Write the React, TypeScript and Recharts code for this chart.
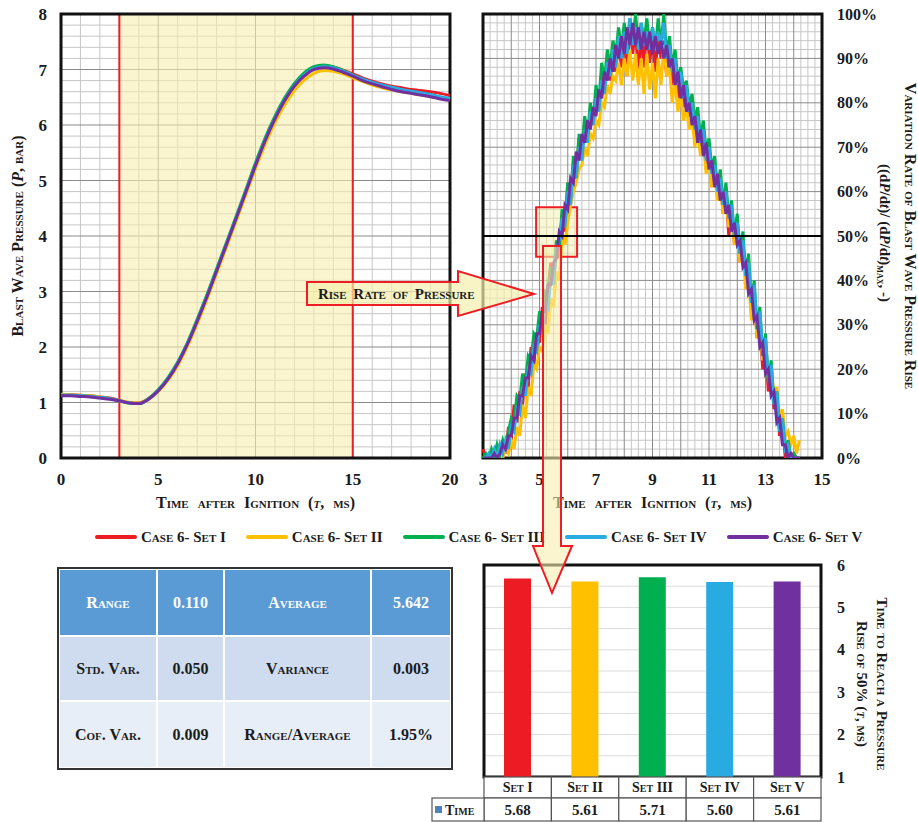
import React from "react";
import {
  LineChart, Line, XAxis, YAxis, CartesianGrid, ReferenceArea, ReferenceLine,
  BarChart, Bar, Cell, Label,
} from "recharts";

const FONT = "'Liberation Serif', 'Times New Roman', serif";
const INK = "#1b1b1b";
const RED_EDGE = "#ee1c25";
const PALE = "#f6efae";

const SET_NAMES = ["Case 6- Set I", "Case 6- Set II", "Case 6- Set III", "Case 6- Set IV", "Case 6- Set V"];
const SET_KEYS = ["s1", "s2", "s3", "s4", "s5"];
const SET_COLORS = ["#ed1c24", "#ffc000", "#00b050", "#29abe2", "#7030a0"];

// blast wave pressure (bar), sampled every 0.5 ms
const PRESSURE_TIME = [0, 0.5, 1, 1.5, 2, 2.5, 3, 3.5, 4, 4.5, 5, 5.5, 6, 6.5, 7, 7.5, 8, 8.5, 9, 9.5, 10,
  10.5, 11, 11.5, 12, 12.5, 13, 13.5, 14, 14.5, 15, 15.5, 16, 16.5, 17, 17.5, 18, 18.5, 19, 19.5, 20];
const P_SET1 = [1.14, 1.14, 1.13, 1.12, 1.10, 1.08, 1.04, 1.00, 0.99, 1.07, 1.22, 1.43, 1.70, 2.05, 2.46, 2.90, 3.37, 3.84, 4.31, 4.79, 5.27,
  5.71, 6.10, 6.43, 6.70, 6.90, 7.02, 7.06, 7.04, 6.99, 6.92, 6.85, 6.79, 6.74, 6.70, 6.67, 6.64, 6.62, 6.60, 6.57, 6.53];
const P_SET2 = [1.15, 1.14, 1.13, 1.12, 1.10, 1.07, 1.04, 1.00, 0.99, 1.06, 1.20, 1.40, 1.66, 2.01, 2.41, 2.85, 3.32, 3.79, 4.26, 4.74, 5.21,
  5.65, 6.04, 6.36, 6.62, 6.81, 6.93, 6.98, 6.97, 6.92, 6.85, 6.78, 6.72, 6.67, 6.63, 6.60, 6.57, 6.54, 6.51, 6.48, 6.45];
const P_SET3 = [1.13, 1.13, 1.12, 1.11, 1.09, 1.07, 1.03, 0.99, 0.98, 1.07, 1.23, 1.45, 1.73, 2.08, 2.50, 2.94, 3.41, 3.88, 4.35, 4.83, 5.32,
  5.77, 6.16, 6.49, 6.75, 6.94, 7.05, 7.08, 7.05, 6.98, 6.90, 6.82, 6.76, 6.71, 6.67, 6.63, 6.60, 6.57, 6.54, 6.50, 6.46];
const P_SET4 = [1.13, 1.13, 1.12, 1.11, 1.09, 1.07, 1.03, 0.99, 0.98, 1.06, 1.22, 1.43, 1.71, 2.06, 2.47, 2.91, 3.38, 3.85, 4.32, 4.80, 5.28,
  5.73, 6.12, 6.45, 6.71, 6.90, 7.02, 7.05, 7.03, 6.97, 6.90, 6.83, 6.77, 6.72, 6.68, 6.64, 6.61, 6.58, 6.55, 6.51, 6.48];
const P_SET5 = [1.12, 1.12, 1.11, 1.10, 1.08, 1.06, 1.03, 0.99, 0.98, 1.06, 1.21, 1.42, 1.70, 2.05, 2.46, 2.90, 3.37, 3.84, 4.31, 4.79, 5.27,
  5.72, 6.11, 6.44, 6.70, 6.88, 7.00, 7.03, 7.01, 6.95, 6.88, 6.80, 6.74, 6.69, 6.64, 6.60, 6.57, 6.54, 6.51, 6.47, 6.44];

// normalised rise rate (%), sampled every 0.1 ms starting at 3 ms
const RATE_START = 3;
const RATE_STEP = 0.1;
const R_SET1 = [2, 0, 0, 1, 0, 3, 0, 4, 1, 7, 4, 12, 8, 15, 12, 19, 16, 25, 21, 28,
  26, 34, 30, 38, 44, 40, 48, 45, 55, 51, 62, 58, 66, 63, 72, 68, 76, 71, 79, 75,
  82, 78, 86, 82, 89, 85, 90, 87, 94, 88, 96, 86, 98, 91, 97, 85, 96, 88, 97, 89,
  95, 87, 96, 90, 94, 86, 93, 84, 89, 81, 87, 79, 83, 77, 80, 72, 76, 69, 74, 65,
  70, 61, 66, 59, 63, 55, 60, 50, 56, 48, 53, 44, 49, 40, 42, 33, 37, 27, 31, 20,
  25, 15, 19, 11, 14, 5, 8, 0, 3, 0, 1, 0, 0];
const R_SET2 = [0, 0, 0, 0, 0, 0, 1, 0, 2, 1, 4, 2, 7, 5, 12, 9, 16, 14, 21, 20,
  25, 24, 30, 28, 36, 34, 42, 40, 50, 48, 53, 57, 60, 62, 65, 66, 70, 68, 73, 72,
  76, 75, 80, 79, 84, 82, 86, 85, 89, 84, 90, 86, 92, 85, 91, 84, 90, 82, 91, 83,
  89, 81, 90, 84, 93, 86, 88, 80, 85, 78, 82, 76, 79, 74, 77, 70, 74, 68, 71, 64,
  67, 61, 64, 58, 61, 55, 58, 52, 55, 48, 52, 44, 47, 38, 41, 31, 36, 27, 31, 22,
  26, 18, 21, 14, 16, 9, 11, 5, 6, 3, 5, 1, 4];
const R_SET3 = [0, 1, 0, 2, 0, 3, 1, 4, 2, 6, 9, 8, 14, 13, 19, 17, 23, 22, 28, 27,
  33, 31, 38, 35, 43, 41, 49, 47, 56, 53, 62, 59, 68, 64, 73, 69, 77, 73, 80, 76,
  84, 80, 89, 85, 92, 88, 94, 91, 97, 92, 98, 93, 99, 94, 100, 93, 98, 94, 99, 93,
  97, 92, 99, 93, 100, 91, 95, 88, 92, 85, 88, 83, 85, 79, 82, 76, 79, 72, 76, 69,
  72, 65, 68, 61, 65, 57, 62, 54, 58, 50, 55, 46, 51, 41, 46, 35, 40, 29, 34, 23,
  28, 17, 22, 12, 15, 6, 9, 2, 4, 0, 1, 0, 0];
const R_SET4 = [0, 0, 1, 0, 2, 0, 3, 1, 4, 2, 7, 6, 11, 10, 16, 14, 20, 19, 25, 24,
  30, 28, 35, 33, 41, 39, 47, 49, 54, 52, 60, 57, 66, 63, 70, 67, 74, 71, 78, 75,
  81, 78, 85, 82, 89, 86, 92, 88, 95, 90, 96, 91, 99, 93, 97, 92, 98, 93, 96, 92,
  97, 92, 96, 93, 98, 90, 93, 87, 90, 84, 87, 81, 84, 78, 80, 74, 77, 71, 74, 67,
  70, 64, 66, 60, 63, 57, 60, 54, 57, 50, 53, 46, 49, 41, 44, 35, 39, 30, 33, 24,
  27, 18, 21, 12, 15, 6, 9, 2, 3, 0, 0, 0, 0];
const R_SET5 = [0, 0, 0, 0, 1, 0, 1, 3, 2, 5, 5, 9, 9, 14, 14, 18, 18, 23, 22, 28,
  28, 33, 33, 39, 39, 44, 45, 51, 50, 57, 56, 63, 62, 69, 67, 73, 71, 76, 74, 79,
  77, 83, 81, 87, 85, 90, 87, 93, 90, 95, 91, 97, 93, 98, 93, 97, 92, 96, 92, 96,
  91, 95, 91, 94, 90, 93, 88, 90, 84, 87, 81, 84, 78, 80, 75, 77, 71, 74, 68, 71,
  65, 67, 61, 64, 58, 60, 55, 57, 51, 53, 48, 49, 43, 44, 37, 38, 31, 32, 25, 26,
  19, 20, 14, 15, 8, 9, 3, 3, 0, 1, 0, 0, 0];

// time to reach 50 % rise (ms)
const BAR_SETS = ["Set I", "Set II", "Set III", "Set IV", "Set V"];
const BAR_TIME = [5.68, 5.61, 5.71, 5.60, 5.61];

// statistics table
const STAT_NAME_A = ["Range", "Std. Var.", "Cof. Var."];
const STAT_VALUE_A = ["0.110", "0.050", "0.009"];
const STAT_NAME_B = ["Average", "Variance", "Range/Average"];
const STAT_VALUE_B = ["5.642", "0.003", "1.95%"];

const P_SERIES = [P_SET1, P_SET2, P_SET3, P_SET4, P_SET5];
const R_SERIES = [R_SET1, R_SET2, R_SET3, R_SET4, R_SET5];

const pressureData = PRESSURE_TIME.map((t, i) => {
  const row: any = { t };
  P_SERIES.forEach((s, k) => { row[SET_KEYS[k]] = s[i]; });
  return row;
});
const rateData = R_SET1.map((_, i) => {
  const row: any = { t: +(RATE_START + i * RATE_STEP).toFixed(2) };
  R_SERIES.forEach((s, k) => { row[SET_KEYS[k]] = s[i]; });
  return row;
});
const barData = BAR_SETS.map((name, i) => ({ name, time: BAR_TIME[i] }));

// grid helpers
const steps = (from: number, to: number, step: number) => {
  const out: number[] = [];
  for (let v = from; v <= to + 1e-9; v += step) out.push(+v.toFixed(3));
  return out;
};
const minorOf = (vals: number[], every: number) =>
  vals.filter((v) => Math.abs(v / every - Math.round(v / every)) > 1e-6);
const vGen = (vals: number[], d0: number, d1: number) => (p: any) => {
  const s = p.xAxis && p.xAxis.scale;
  if (typeof s === "function") return vals.map((v) => s(v));
  const o = p.offset;
  return vals.map((v) => o.left + ((v - d0) / (d1 - d0)) * o.width);
};
const hGen = (vals: number[], d0: number, d1: number) => (p: any) => {
  const s = p.yAxis && p.yAxis.scale;
  if (typeof s === "function") return vals.map((v) => s(v));
  const o = p.offset;
  return vals.map((v) => o.top + ((d1 - v) / (d1 - d0)) * o.height);
};

const P_VMAJOR = [5, 10, 15];
const P_VMINOR = minorOf(steps(1, 19, 1), 5);
const P_HMAJOR = steps(1, 7, 1);
const P_HMINOR = minorOf(steps(0.2, 7.8, 0.2), 1);
const R_VMAJOR = steps(4, 14, 1);
const R_VMINOR = minorOf(steps(3.25, 14.75, 0.25), 1);
const R_HMAJOR = steps(10, 90, 10);
const R_HMINOR = minorOf(steps(2, 98, 2), 10);
const B_H = steps(1.5, 5.5, 0.5);

const caps: any = { fontVariant: "small-caps", fontWeight: 700, fill: INK, fontFamily: FONT };
const tickStyle = { fill: INK, fontSize: 17, fontWeight: 700, fontFamily: FONT };

function TimeTitle(props: any) {
  const { x, y, width } = props.viewBox;
  return (
    <text x={x + width / 2} y={y + 50} textAnchor="middle" fontSize={16} style={{ ...caps, wordSpacing: 5 }}>
      Time after Ignition (<tspan fontStyle="italic">t</tspan>, ms)
    </text>
  );
}

function PressureTitle(props: any) {
  const { x, y, height } = props.viewBox;
  const cx = x + 17;
  const cy = y + height / 2;
  return (
    <text x={cx} y={cy} transform={`rotate(-90 ${cx} ${cy})`} textAnchor="middle" dominantBaseline="central" fontSize={16} style={caps}>
      Blast Wave Pressure (<tspan fontStyle="italic">P</tspan>, bar)
    </text>
  );
}

function RateTitle(props: any) {
  const { x, y, height } = props.viewBox;
  const cy = y + height / 2;
  const x1 = x + 88;
  const x2 = x + 63;
  return (
    <g>
      <text x={x1} y={cy} transform={`rotate(90 ${x1} ${cy})`} textAnchor="middle" dominantBaseline="central" fontSize={16} style={caps}>
        Variation Rate of Blast Wave Pressure Rise
      </text>
      <text x={x2} y={cy - 3} transform={`rotate(90 ${x2} ${cy - 3})`} textAnchor="middle" dominantBaseline="central" fontSize={15} style={{ ...caps, fontVariant: "normal" }}>
        ((d<tspan fontStyle="italic">P</tspan>/d<tspan fontStyle="italic">t</tspan>)/ (d<tspan fontStyle="italic">P</tspan>/d<tspan fontStyle="italic">t</tspan>)<tspan fontSize={11} dy={4} style={{ fontVariant: "small-caps" }}>max</tspan><tspan dy={-4}>, -)</tspan>
      </text>
    </g>
  );
}

function BarTitle(props: any) {
  const { x, y, height } = props.viewBox;
  const cy = y + height / 2 + 13;
  const x1 = x + 61;
  const x2 = x + 41;
  return (
    <g>
      <text x={x1} y={cy} transform={`rotate(90 ${x1} ${cy})`} textAnchor="middle" dominantBaseline="central" fontSize={15} style={caps}>
        Time to Reach a Pressure
      </text>
      <text x={x2} y={cy} transform={`rotate(90 ${x2} ${cy})`} textAnchor="middle" dominantBaseline="central" fontSize={15} style={caps}>
        Rise of 50% (<tspan fontStyle="italic">t</tspan>, ms)
      </text>
    </g>
  );
}

function SetTick(props: any) {
  const { x, y, index, payload } = props;
  const h = payload && payload.offset ? payload.offset : 33.7;
  const top = y;
  return (
    <g>
      <rect x={x - h} y={top} width={2 * h} height={21} fill="#fff" stroke="#555" strokeWidth={1.2} />
      <rect x={x - h} y={top + 21} width={2 * h} height={23} fill="#fff" stroke="#555" strokeWidth={1.2} />
      <text x={x} y={top + 15} textAnchor="middle" fontSize={14} style={caps}>{payload.value}</text>
      <text x={x} y={top + 38} textAnchor="middle" fontSize={15} style={caps}>{BAR_TIME[index].toFixed(2)}</text>
      {index === 0 && (
        <g>
          <rect x={x - h - 52} y={top + 21} width={52} height={23} fill="#fff" stroke="#555" strokeWidth={1.2} />
          <rect x={x - h - 49} y={top + 29} width={7} height={7} fill="#4f81bd" />
          <text x={x - h - 39} y={top + 38} fontSize={14} style={caps}>Time</text>
        </g>
      )}
    </g>
  );
}

function PressureChart() {
  return (
    <LineChart width={470} height={520} data={pressureData} margin={{ top: 14, right: 20, bottom: 0, left: 0 }}>
      <CartesianGrid stroke="#c6c6c6" verticalCoordinatesGenerator={vGen(P_VMINOR, 0, 20)} horizontalCoordinatesGenerator={hGen(P_HMINOR, 0, 8)} />
      <CartesianGrid stroke="#8a8a8a" verticalCoordinatesGenerator={vGen(P_VMAJOR, 0, 20)} horizontalCoordinatesGenerator={hGen(P_HMAJOR, 0, 8)} />
      <XAxis dataKey="t" type="number" domain={[0, 20]} ticks={[0, 5, 10, 15, 20]} tickLine={false} axisLine={false}
        tick={tickStyle} tickMargin={9} height={62}>
        <Label content={TimeTitle} />
      </XAxis>
      <YAxis type="number" domain={[0, 8]} ticks={[0, 1, 2, 3, 4, 5, 6, 7, 8]} tickLine={false} axisLine={false}
        tick={tickStyle} tickMargin={8} width={61}>
        <Label content={PressureTitle} />
      </YAxis>
      <ReferenceArea x1={3} x2={15} y1={0} y2={8} fill={PALE} fillOpacity={0.6} stroke={RED_EDGE} strokeWidth={2} />
      {SET_KEYS.map((k, i) => (
        <Line key={k} type="monotone" dataKey={k} stroke={SET_COLORS[i]} strokeWidth={3} dot={false} isAnimationActive={false} />
      ))}
      <ReferenceArea x1={0} x2={20} y1={0} y2={8} fill="none" stroke="#111" strokeWidth={3} />
    </LineChart>
  );
}

function RateChart() {
  return (
    <LineChart width={458} height={520} data={rateData} margin={{ top: 14, right: 0, bottom: 0, left: 23 }}>
      <CartesianGrid stroke="#c6c6c6" verticalCoordinatesGenerator={vGen(R_VMINOR, 3, 15)} horizontalCoordinatesGenerator={hGen(R_HMINOR, 0, 100)} />
      <CartesianGrid stroke="#8a8a8a" verticalCoordinatesGenerator={vGen(R_VMAJOR, 3, 15)} horizontalCoordinatesGenerator={hGen(R_HMAJOR, 0, 100)} />
      <XAxis dataKey="t" type="number" domain={[3, 15]} ticks={[3, 5, 7, 9, 11, 13, 15]} tickLine={false} axisLine={false}
        tick={tickStyle} tickMargin={9} height={62}>
        <Label content={TimeTitle} />
      </XAxis>
      <YAxis orientation="right" type="number" domain={[0, 100]} ticks={[0, 10, 20, 30, 40, 50, 60, 70, 80, 90, 100]}
        allowDataOverflow tickLine={false} axisLine={false} tick={{ ...tickStyle, fontSize: 16 }} tickMargin={9} width={96}
        tickFormatter={(v: number) => `${v}%`}>
        <Label content={RateTitle} />
      </YAxis>
      {SET_KEYS.map((k, i) => (
        <Line key={k} type="linear" dataKey={k} stroke={SET_COLORS[i]} strokeWidth={3} dot={false} isAnimationActive={false} />
      ))}
      <ReferenceLine y={50} stroke="#000" strokeWidth={2} />
      <ReferenceArea x1={4.88} x2={6.33} y1={45.3} y2={56.5} fill={PALE} fillOpacity={0.5} stroke={RED_EDGE} strokeWidth={2} />
      <ReferenceArea x1={3} x2={15} y1={0} y2={100} fill="none" stroke="#111" strokeWidth={3} />
    </LineChart>
  );
}

function TimeBarChart() {
  return (
    <BarChart width={518} height={272} data={barData} margin={{ top: 15, right: 0, bottom: 0, left: 84 }}>
      <CartesianGrid stroke="#dcdcdc" vertical={false} horizontalCoordinatesGenerator={hGen(B_H, 1, 6)} />
      <XAxis dataKey="name" tickLine={false} axisLine={false} tickSize={0} tickMargin={0} interval={0} height={45} tick={<SetTick />} />
      <YAxis orientation="right" type="number" domain={[1, 6]} ticks={[1, 2, 3, 4, 5, 6]} allowDataOverflow
        tickLine={false} axisLine={false} tick={{ ...tickStyle, fontSize: 16 }} tickMargin={10} width={97}>
        <Label content={BarTitle} />
      </YAxis>
      <Bar dataKey="time" barSize={27} isAnimationActive={false}>
        {barData.map((d, i) => <Cell key={d.name} fill={SET_COLORS[i]} />)}
      </Bar>
      <ReferenceArea y1={1} y2={6} fill="none" stroke="#111" strokeWidth={3} />
    </BarChart>
  );
}

function StatsTable() {
  const rowBg = ["#5b9bd5", "#cfdbee", "#e8eef7"];
  const cells: any[] = [];
  STAT_NAME_A.forEach((name, r) => {
    const color = r === 0 ? "#fff" : INK;
    [name, STAT_VALUE_A[r], STAT_NAME_B[r], STAT_VALUE_B[r]].forEach((txt, c) => {
      cells.push(
        <div key={`${r}-${c}`} style={{ background: rowBg[r], color, display: "flex", alignItems: "center", justifyContent: "center",
          fontVariant: c % 2 === 0 ? "small-caps" : "normal", fontWeight: 700, fontSize: 16 }}>
          {txt}
        </div>
      );
    });
  });
  return (
    <div style={{ position: "absolute", left: 57, top: 567, width: 396, height: 203, boxSizing: "border-box", border: "2.5px solid #333",
      background: "#fff", display: "grid", gridTemplateColumns: "96px 65px 145px 1fr", gridTemplateRows: "65px 63px 1fr", gap: 2, padding: 1 }}>
      {cells}
    </div>
  );
}

function LegendRow() {
  return (
    <div style={{ position: "absolute", left: 95, top: 528, height: 18, display: "flex", alignItems: "center", gap: 20 }}>
      {SET_NAMES.map((n, i) => (
        <div key={n} style={{ display: "flex", alignItems: "center" }}>
          <span style={{ display: "inline-block", width: 42, height: 4, borderRadius: 2, background: SET_COLORS[i], marginRight: 4 }} />
          <span style={{ fontVariant: "small-caps", fontWeight: 700, fontSize: 15, color: INK, whiteSpace: "nowrap" }}>{n}</span>
        </div>
      ))}
    </div>
  );
}

function Annotations() {
  return (
    <svg width={918} height={822} style={{ position: "absolute", left: 0, top: 0, pointerEvents: "none" }}>
      <polygon points="307,282 458,282 458,271 534,294 458,316 458,305 307,305" fill={PALE} fillOpacity={0.7} stroke={RED_EDGE} strokeWidth={2} />
      <text x={318} y={299} fontSize={15} style={{ ...caps, wordSpacing: 3 }}>Rise Rate of Pressure</text>
      <polygon points="543,246 561,246 561,546 572,546 552,593 533,546 543,546" fill={PALE} fillOpacity={0.6} stroke={RED_EDGE} strokeWidth={2} />
    </svg>
  );
}

export default function App() {
  return (
    <div style={{ position: "absolute", left: 0, top: 0, width: 918, height: 822, background: "#fff", overflow: "hidden", fontFamily: FONT }}>
      <div style={{ position: "absolute", left: 0, top: 0 }}><PressureChart /></div>
      <div style={{ position: "absolute", left: 460, top: 0 }}><RateChart /></div>
      <LegendRow />
      <StatsTable />
      <div style={{ position: "absolute", left: 400, top: 550 }}><TimeBarChart /></div>
      <Annotations />
    </div>
  );
}
